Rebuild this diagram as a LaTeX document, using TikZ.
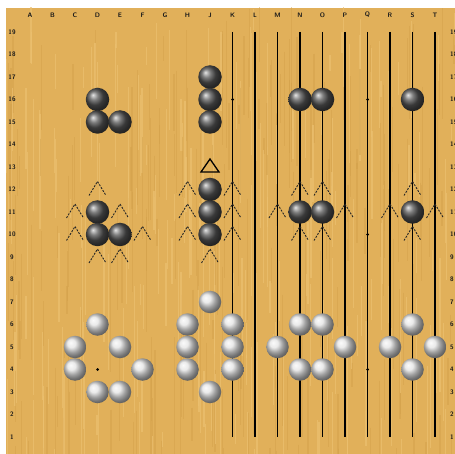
\documentclass[tikz,border=0pt]{standalone}
\definecolor{wood}{RGB}{225,176,90}
\definecolor{woodlight}{RGB}{236,192,112}
\definecolor{wooddark}{RGB}{212,162,76}
\begin{document}
\begin{tikzpicture}[x=1pt,y=-1pt,
  gridline/.style={line width=1.3pt,black},
  bstone/.style={circle,minimum size=23.5pt,inner sep=0pt,shading=ball,ball color=black!68},
  wstone/.style={circle,minimum size=22.5pt,inner sep=0pt,shading=ball,ball color=gray!22},
  libmark/.style={line width=0.9pt,dash pattern=on 2pt off 1.3pt,black!85},
  lbl/.style={font=\sffamily\bfseries\fontsize{6.5}{6.5}\selectfont,inner sep=0pt,text=black!90},
  hoshi/.style={circle,fill=black,inner sep=0pt,minimum size=3pt}]
\useasboundingbox (0,0) rectangle (455,454);
\fill[white] (0,0) rectangle (455,454);
\fill[wood] (6,8) rectangle (455,454);
\begin{scope}
\clip (6,8) rectangle (455,454);
\pgfmathsetseed{7}
\foreach \k in {1,...,420}{
  \pgfmathsetmacro{\sx}{6+rnd*449}
  \pgfmathsetmacro{\sy}{rnd*454}
  \pgfmathsetmacro{\sl}{15+rnd*120}
  \pgfmathsetmacro{\sw}{0.5+rnd*1.2}
  \pgfmathsetmacro{\sc}{rnd}
  \ifdim\sc pt<0.5pt
    \draw[woodlight,line width=\sw pt,opacity=0.7] (\sx,\sy) -- (\sx,\sy+\sl);
  \else
    \draw[wooddark,line width=\sw pt,opacity=0.5] (\sx,\sy) -- (\sx,\sy+\sl);
  \fi
}
\end{scope}
% coordinates
\foreach \c/\n in {1/A,2/B,3/C,4/D,5/E,6/F,7/G,8/H,9/J,10/K,11/L,12/M,13/N,14/O,15/P,16/Q,17/R,18/S,19/T}{
  \foreach \r in {1,...,19}{
    \coordinate (\n\r) at ({30+(\c-1)*22.5},{32+(19-\r)*22.5});
  }
  \node[lbl] (top\n) at ({30+(\c-1)*22.5},15) {\n};
}
\foreach \r in {1,...,19}{
  \node[lbl] (left\r) at (12,{32+(19-\r)*22.5}) {\r};
  \node[lbl,anchor=west] (right\r) at (450,{32+(19-\r)*22.5}) {\r};
}
% grid lines
\foreach \n in {K,L,M,N,O,P,Q,R,S,T}{
  \draw[gridline] (\n19) -- (\n1);
}
% hoshi
\foreach \p in {D4,K16,Q16,Q10,Q4}{
  \node[hoshi] (h\p) at (\p) {};
}
% liberty marks
\foreach \p in {D12,C11,E11,C10,F10,D9,E9,H12,K12,H11,K11,H10,K10,J9,N12,O12,M11,P11,N10,O10,S12,R11,T11,S10}{
  \draw[libmark] ([shift={(-8.5,6)}]\p) -- ([shift={(0,-8)}]\p) -- ([shift={(8.5,6)}]\p);
}
% triangle
\draw[line width=1.3pt,black] ([shift={(0,-8)}]J13) -- ([shift={(-9,5)}]J13) -- ([shift={(9,5)}]J13) -- cycle;
% black stones
\foreach \p in {D16,D15,E15,J17,J16,J15,N16,O16,S16,D11,D10,E10,J12,J11,J10,N11,O11,S11}{
  \node[bstone] (b\p) at (\p) {};
}
% white stones
\foreach \p in {D6,C5,E5,C4,F4,D3,E3,J7,H6,K6,H5,K5,H4,K4,J3,N6,O6,M5,P5,N4,O4,S6,R5,T5,S4}{
  \node[wstone] (w\p) at (\p) {};
}
\end{tikzpicture}
\end{document}
